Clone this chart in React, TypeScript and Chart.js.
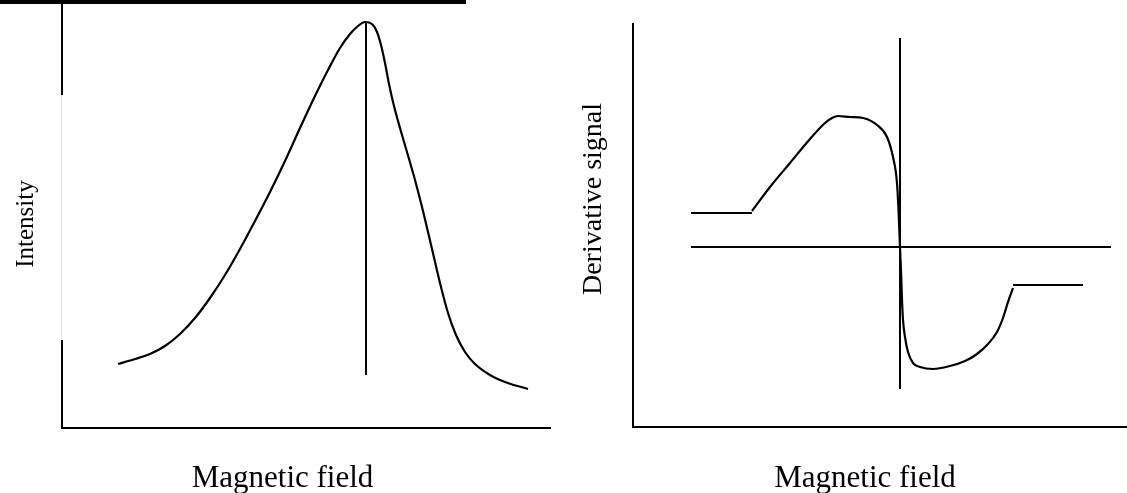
import React, { useEffect, useRef } from "react";
import { Chart, registerables } from "chart.js";

Chart.register(...registerables);

// ---------- Left panel: absorption (intensity) curve, arbitrary units ----------
const intensityField = [56, 73, 88, 103, 118, 133, 148, 163, 178, 193, 208, 223, 238, 253, 266, 278, 288, 296, 303, 310, 315, 319, 323, 327, 332, 338, 345, 353, 361, 370, 378, 386, 394, 403, 413, 428, 443, 466];
const intensityValues = [64, 69, 74, 82, 94, 110, 130, 153, 179, 207, 236, 267, 300, 332, 358, 380, 394, 402, 406, 404, 396, 383, 365, 344, 322, 300, 276, 248, 217, 179, 145, 115, 93, 76, 64, 53, 46, 39];
const peakMarkerField = [304, 304];
const peakMarkerValues = [406, 53];
const leftAxisMax = { x: 488, y: 423 };
const leftAxisGap = [88, 333];

// ---------- Right panel: first-derivative signal, arbitrary units ----------
const derivLeadField = [58, 119];
const derivLeadValues = [214, 214];
const derivField = [119, 137, 157, 177, 192, 199, 205, 217, 230, 244, 254, 260, 264, 265.5, 267, 268, 269, 270, 272, 275, 280, 287, 300, 317, 332, 344, 355, 364, 370, 375, 380];
const derivValues = [216, 240, 264, 288, 304, 309, 311, 310, 309, 302, 290, 270, 244, 217, 180, 157, 127, 107, 90, 75, 64, 60, 58, 61, 66, 73, 83, 95, 109, 125, 139];
const derivTailField = [380, 450];
const derivTailValues = [142, 142];
const zeroLineField = [58, 478];
const zeroLineValues = [180, 180];
const centerMarkerField = [267, 267];
const centerMarkerValues = [389, 38];
const rightAxisMax = { x: 494, y: 403 };

const xTitle = "Magnetic field";
const leftYTitle = "Intensity";
const rightYTitle = "Derivative signal";

const SERIF = '"Liberation Serif", "Times New Roman", Times, serif';

const toPoints = (xs: number[], ys: number[]) => xs.map((x, i) => ({ x, y: ys[i] }));

function lineDs(xs: number[], ys: number[], smooth: boolean) {
  return {
    data: toPoints(xs, ys),
    showLine: true,
    borderColor: "#000",
    backgroundColor: "#000",
    borderWidth: smooth ? 2.2 : 2,
    pointRadius: 0,
    pointHoverRadius: 0,
    tension: smooth ? 0.4 : 0,
    cubicInterpolationMode: smooth ? ("monotone" as const) : ("default" as const),
    fill: false,
  };
}

function axisScales(maxX: number, maxY: number) {
  const common = {
    type: "linear" as const,
    display: true,
    ticks: { display: false },
    grid: { display: false, drawTicks: false },
    border: { display: true, color: "#000", width: 2 },
    title: { display: false },
  };
  return {
    x: { ...common, min: 0, max: maxX },
    y: { ...common, min: 0, max: maxY },
  };
}

function drawRotated(ctx: CanvasRenderingContext2D, text: string, x: number, y: number, size: number) {
  ctx.save();
  ctx.translate(x, y);
  ctx.rotate(-Math.PI / 2);
  ctx.font = `${size}px ${SERIF}`;
  ctx.fillStyle = "#000";
  ctx.textAlign = "center";
  ctx.textBaseline = "alphabetic";
  ctx.fillText(text, 0, 0);
  ctx.restore();
}

function drawHorizontal(ctx: CanvasRenderingContext2D, text: string, x: number, y: number, size: number) {
  ctx.save();
  ctx.font = `${size}px ${SERIF}`;
  ctx.fillStyle = "#000";
  ctx.textAlign = "center";
  ctx.textBaseline = "alphabetic";
  ctx.fillText(text, x, y);
  ctx.restore();
}

export default function App() {
  const leftRef = useRef<HTMLCanvasElement | null>(null);
  const rightRef = useRef<HTMLCanvasElement | null>(null);

  useEffect(() => {
    document.body.style.margin = "0";
    const charts: Chart[] = [];

    if (leftRef.current) {
      const leftPlugin = {
        id: "leftDecor",
        afterDraw(chart: any) {
          const { ctx, chartArea, scales } = chart;
          const yTop = scales.y.getPixelForValue(leftAxisGap[1]);
          const yBot = scales.y.getPixelForValue(leftAxisGap[0]);
          ctx.save();
          ctx.fillStyle = "#fff";
          ctx.fillRect(chartArea.left - 3, yTop, 6, yBot - yTop);
          ctx.strokeStyle = "#e4e4e4";
          ctx.lineWidth = 1;
          ctx.beginPath();
          ctx.moveTo(chartArea.left - 0.5, yTop);
          ctx.lineTo(chartArea.left - 0.5, yBot);
          ctx.stroke();
          ctx.restore();
          drawHorizontal(ctx, xTitle, 282.5, 487, 31);
          drawRotated(ctx, leftYTitle, 33, 224, 25);
        },
      };
      charts.push(
        new Chart(leftRef.current, {
          type: "scatter",
          data: {
            datasets: [
              lineDs(intensityField, intensityValues, true),
              lineDs(peakMarkerField, peakMarkerValues, false),
            ] as any,
          },
          options: {
            responsive: false,
            animation: false,
            layout: { padding: { left: 62, top: 5, right: 13, bottom: 65 } },
            scales: axisScales(leftAxisMax.x, leftAxisMax.y) as any,
            plugins: { legend: { display: false }, tooltip: { enabled: false }, title: { display: false } },
            events: [],
          },
          plugins: [leftPlugin],
        })
      );
    }

    if (rightRef.current) {
      const rightPlugin = {
        id: "rightDecor",
        afterDraw(chart: any) {
          const { ctx } = chart;
          drawHorizontal(ctx, xTitle, 302, 487, 31);
          drawRotated(ctx, rightYTitle, 38, 199, 28);
        },
      };
      charts.push(
        new Chart(rightRef.current, {
          type: "scatter",
          data: {
            datasets: [
              lineDs(derivLeadField, derivLeadValues, false),
              lineDs(derivField, derivValues, true),
              lineDs(derivTailField, derivTailValues, false),
              lineDs(zeroLineField, zeroLineValues, false),
              lineDs(centerMarkerField, centerMarkerValues, false),
            ] as any,
          },
          options: {
            responsive: false,
            animation: false,
            layout: { padding: { left: 70, top: 24, right: 0, bottom: 66 } },
            scales: axisScales(rightAxisMax.x, rightAxisMax.y) as any,
            plugins: { legend: { display: false }, tooltip: { enabled: false }, title: { display: false } },
            events: [],
          },
          plugins: [rightPlugin],
        })
      );
    }

    return () => {
      charts.forEach((c) => c.destroy());
    };
  }, []);

  return (
    <div style={{ position: "relative", width: 1127, height: 493, background: "#fff", overflow: "hidden" }}>
      <div style={{ position: "absolute", left: 0, top: 0, width: 466, height: 4, background: "#000" }} />
      <canvas ref={leftRef} width={563} height={493} style={{ position: "absolute", left: 0, top: 0 }} />
      <canvas ref={rightRef} width={564} height={493} style={{ position: "absolute", left: 563, top: 0 }} />
    </div>
  );
}
